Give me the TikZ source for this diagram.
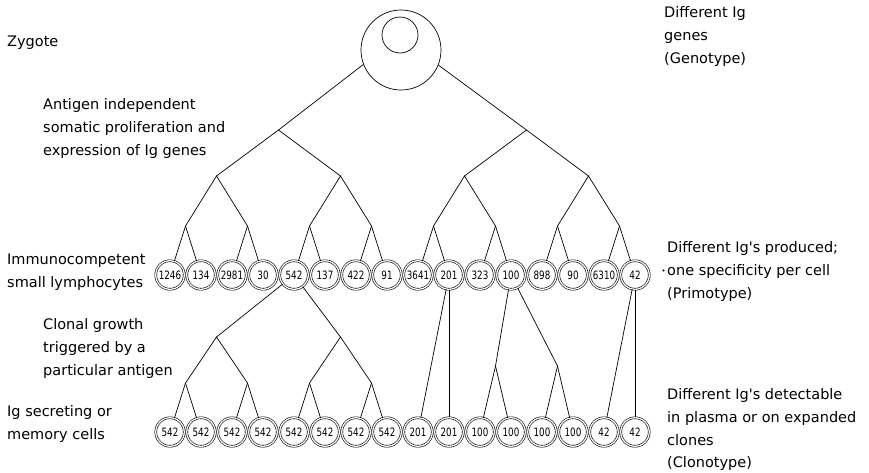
\documentclass[tikz,border=0pt]{standalone}
\usepackage{fontspec}
\setmainfont{DejaVu Sans}
\newfontfamily\numfont[FakeStretch=0.76]{DejaVu Sans}
\begin{document}
\begin{tikzpicture}[x=1pt,y=-1pt,
  branch/.style={line width=0.7pt},
  cell/.style={circle, draw, double, double distance=1.3pt, line width=0.6pt,
    minimum size=28.5pt, inner sep=0pt, font=\numfont\fontsize{11.5}{12}\selectfont},
  lbl/.style={font=\fontsize{14.5}{22.8}\selectfont, inner sep=0pt, align=left, anchor=base west}]
\useasboundingbox (0,0) rectangle (869,472);
% zygote
\node[circle, draw, line width=0.7pt, minimum size=80pt, inner sep=0pt] (zyg) at (401,50) {};
\node[circle, draw, line width=0.7pt, minimum size=36pt, inner sep=0pt] (nuc) at (400,35) {};
% primotype row
\foreach \v [count=\i from 0] in {1246,134,2981,30,542,137,422,91,3641,201,323,100,898,90,6310,42}
  \node[cell] (t\i) at ({170+31*\i},275) {\v};
% clonotype row
\foreach \v [count=\i from 0] in {542,542,542,542,542,542,542,542,201,201,100,100,100,100,42,42}
  \node[cell] (u\i) at ({170+31*\i},432) {\v};
% upper tree
\coordinate (a1) at (278.5,130);
\coordinate (a2) at (526.5,130);
\foreach \k/\x in {1/216.5,2/340.5,3/464.5,4/588.5} \coordinate (b\k) at (\x,176);
\foreach \k in {1,...,8} \coordinate (c\k) at ({185.5+62*(\k-1)},226);
\draw[branch] (a1) -- (zyg.201);
\draw[branch] (a2) -- (zyg.338);
\draw[branch] (b1) -- (a1) -- (b2);
\draw[branch] (b3) -- (a2) -- (b4);
\draw[branch] (c1) -- (b1) -- (c2);
\draw[branch] (c3) -- (b2) -- (c4);
\draw[branch] (c5) -- (b3) -- (c6);
\draw[branch] (c7) -- (b4) -- (c8);
\foreach \k [evaluate=\k as \l using int(2*\k-2), evaluate=\k as \r using int(2*\k-1)] in {1,...,8}{
  \draw[branch] (c\k) -- (t\l);
  \draw[branch] (c\k) -- (t\r);
}
% lower tree
\coordinate (d1) at (216.5,337);
\coordinate (d2) at (340.5,337);
\foreach \k/\x in {1/185.5,2/247.5,3/309.5,4/371.5} \coordinate (e\k) at (\x,383);
\coordinate (f1) at (495.5,366);
\coordinate (f2) at (557.5,366);
\draw[branch] (t4) -- (d1);
\draw[branch] (t4) -- (d2);
\draw[branch] (e1) -- (d1) -- (e2);
\draw[branch] (e3) -- (d2) -- (e4);
\foreach \k [evaluate=\k as \l using int(2*\k-2), evaluate=\k as \r using int(2*\k-1)] in {1,...,4}{
  \draw[branch] (e\k) -- (u\l);
  \draw[branch] (e\k) -- (u\r);
}
\draw[branch] (t9) -- (u8);
\draw[branch] (t9) -- (u9);
\draw[branch] (t11) -- (f1);
\draw[branch] (t11) -- (f2);
\draw[branch] (f1) -- (u10);
\draw[branch] (f1) -- (u11);
\draw[branch] (f2) -- (u12);
\draw[branch] (f2) -- (u13);
\draw[branch] (t15) -- (u14);
\draw[branch] (t15) -- (u15);
% labels (base anchor = baseline of last line)
\node[lbl] (lzyg) at (7,46.5) {Zygote};
\node[lbl] (lanti) at (43,155.1) {Antigen independent\\somatic proliferation and\\expression of Ig genes};
\node[lbl] (limm) at (7,287.3) {Immunocompetent\\small lymphocytes};
\node[lbl] (lclon) at (43,375.1) {Clonal growth\\triggered by a\\particular antigen};
\node[lbl] (lsec) at (7,439.3) {Ig secreting or\\memory cells};
\node[lbl] (lgen) at (664,63.1) {Different Ig\\genes\\(Genotype)};
\node[lbl] (lpri) at (667,298.1) {Different Ig\textquotesingle s produced;\\one specificity per cell\\(Primotype)};
\fill (663.5,270.5) circle (1.1pt);
\node[lbl] (lclo) at (667,467.9) {Different Ig\textquotesingle s detectable\\in plasma or on expanded\\clones\\(Clonotype)};
\end{tikzpicture}
\end{document}
